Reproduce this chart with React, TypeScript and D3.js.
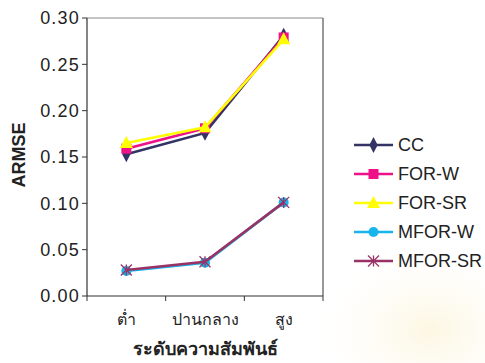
import React from "react";
import * as d3 from "d3";

const categories = ["ต่ำ", "ปานกลาง", "สูง"];
const seriesNames = ["CC", "FOR-W", "FOR-SR", "MFOR-W", "MFOR-SR"];
const ccValues = [0.153, 0.176, 0.281];
const forWValues = [0.159, 0.181, 0.279];
const forSrValues = [0.165, 0.182, 0.277];
const mforWValues = [0.027, 0.036, 0.101];
const mforSrValues = [0.028, 0.037, 0.101];
const yTicks = [0, 0.05, 0.1, 0.15, 0.2, 0.25, 0.3];

const colors = ["#333366", "#ee1188", "#ffff00", "#18b4ec", "#993366"];
const shapes = ["diamond", "square", "triangle", "circle", "asterisk"];
const allValues = [ccValues, forWValues, forSrValues, mforWValues, mforSrValues];

const FONT = "'Liberation Sans', Arial, Helvetica, sans-serif";

const W = 485;
const H = 363;
const left = 87;
const right = 323;
const top = 18;
const bottom = 296;

function Marker({ shape, x, y, color }: { shape: string; x: number; y: number; color: string }) {
  if (shape === "diamond") {
    const p = d3.symbol(d3.symbolDiamond, 60)();
    return <path d={p!} transform={`translate(${x},${y}) scale(1,1.1)`} fill={color} />;
  }
  if (shape === "square") {
    return <rect x={x - 5} y={y - 5} width={10} height={10} fill={color} />;
  }
  if (shape === "triangle") {
    return <path d={`M${x},${y - 7}L${x + 6.5},${y + 5}L${x - 6.5},${y + 5}Z`} fill={color} />;
  }
  if (shape === "circle") {
    return <circle cx={x} cy={y} r={5} fill={color} />;
  }
  const r = 5.5;
  return (
    <g stroke={color} strokeWidth={1.3}>
      <line x1={x - r} y1={y - r} x2={x + r} y2={y + r} />
      <line x1={x - r} y1={y + r} x2={x + r} y2={y - r} />
      <line x1={x} y1={y - r} x2={x} y2={y + r} />
    </g>
  );
}

export default function App() {
  const x = d3.scaleBand<string>().domain(categories).range([left, right]);
  const y = d3.scaleLinear().domain([0, 0.3]).range([bottom, top]);
  const line = d3
    .line<number>()
    .x((_, i) => x(categories[i])! + x.bandwidth() / 2)
    .y((v) => y(v));

  const bounds = [left, ...categories.map((c) => x(c)! + x.bandwidth())];
  const legendY = d3.range(seriesNames.length).map((i) => 145 + i * 29);

  return (
    <svg
      width={W}
      height={H}
      style={{ position: "absolute", left: 0, top: 0, background: "#fff" }}
      fontFamily={FONT}
    >
      <defs>
        <radialGradient id="glow" cx="0.5" cy="0.5" r="0.5">
          <stop offset="0%" stopColor="#fbf1cf" stopOpacity={0.6} />
          <stop offset="100%" stopColor="#fdf8ea" stopOpacity={0} />
        </radialGradient>
      </defs>
      <ellipse cx={430} cy={330} rx={110} ry={80} fill="url(#glow)" />

      {/* frame */}
      <line x1={left} y1={top} x2={right} y2={top} stroke="#8a8a8a" strokeWidth={1.2} />
      <line x1={right} y1={top} x2={right} y2={bottom} stroke="#333" strokeWidth={1} />
      <line x1={left} y1={top} x2={left} y2={bottom} stroke="#333" strokeWidth={1.2} />
      <line x1={left} y1={bottom} x2={right} y2={bottom} stroke="#333" strokeWidth={1.2} />

      {yTicks.map((t) => (
        <g key={t}>
          <line x1={left - 5} x2={left} y1={y(t)} y2={y(t)} stroke="#333" />
          <text
            x={left - 7}
            y={y(t)}
            dy="0.36em"
            textAnchor="end"
            fontSize={18}
            letterSpacing={1.2}
            fill="#222"
          >
            {t.toFixed(2)}
          </text>
        </g>
      ))}
      {bounds.map((b) => (
        <line key={b} x1={b} x2={b} y1={bottom} y2={bottom + 5} stroke="#333" />
      ))}
      {categories.map((c) => (
        <text
          key={c}
          x={x(c)! + x.bandwidth() / 2}
          y={325}
          textAnchor="middle"
          fontSize={16}
          fill="#222"
        >
          {c}
        </text>
      ))}
      <text x={205} y={355} textAnchor="middle" fontSize={18} fontWeight="bold" fill="#222">
        ระดับความสัมพันธ์
      </text>
      <text
        transform={`translate(25,155) rotate(-90)`}
        textAnchor="middle"
        fontSize={18}
        fontWeight="bold"
        fill="#222"
      >
        ARMSE
      </text>

      {allValues.map((vals, s) => (
        <g key={seriesNames[s]}>
          <path d={line(vals)!} fill="none" stroke={colors[s]} strokeWidth={2.6} />
          {vals.map((v, i) => (
            <Marker
              key={i}
              shape={shapes[s]}
              x={x(categories[i])! + x.bandwidth() / 2}
              y={y(v)}
              color={colors[s]}
            />
          ))}
        </g>
      ))}

      {seriesNames.map((n, s) => (
        <g key={n}>
          <line x1={354} x2={393} y1={legendY[s]} y2={legendY[s]} stroke={colors[s]} strokeWidth={2.6} />
          <Marker shape={shapes[s]} x={373.5} y={legendY[s]} color={colors[s]} />
          <text x={398} y={legendY[s]} dy="0.36em" fontSize={18} fill="#222">
            {n}
          </text>
        </g>
      ))}
    </svg>
  );
}
